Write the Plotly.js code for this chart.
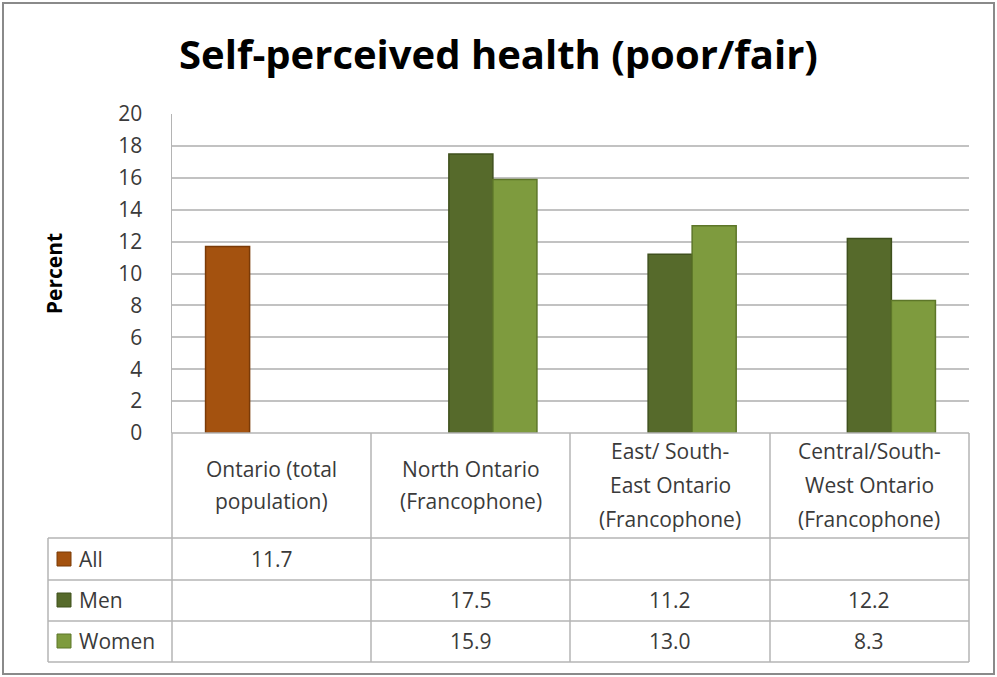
<!DOCTYPE html>
<html>
<head>
<meta charset="utf-8">
<script src="https://cdn.plot.ly/plotly-3.0.1.min.js"></script>
<style>html,body{margin:0;padding:0;background:#fff;}#chart{width:997px;height:677px;}</style>
</head>
<body>
<div id="chart"></div>
<script>
// ---- data ----
var categories = ["Ontario (total<br>population)", "North Ontario<br>(Francophone)", "East/ South-<br>East Ontario<br>(Francophone)", "Central/South-<br>West Ontario<br>(Francophone)"];
var seriesNames = ["All", "Men", "Women"];
var allValues = [11.7, null, null, null];
var menValues = [null, 17.5, 11.2, 12.2];
var womenValues = [null, 15.9, 13.0, 8.3];
var yTicks = [0, 2, 4, 6, 8, 10, 12, 14, 16, 18, 20];

// ---- styles ----
var fills = ["#A4520F", "#566A2B", "#7E9B3E"];
var edges = ["#7A3A07", "#3F501D", "#5D7629"];
var seriesValues = [allValues, menValues, womenValues];
var font = "'Open Sans', Lato, sans-serif";
var textColor = "#3a3a3a";
var lineColor = "#b4b4b4";
var fs = 21;

var W = 997, H = 677, L = 172, R = 969, T = 114, B = 433;
function px(x) { return (x - L) / (R - L); }
function py(y) { return (B - y) / (B - T); }

var traces = seriesNames.map(function (name, i) {
  return {
    type: "bar", name: name, x: categories, y: seriesValues[i],
    marker: { color: fills[i], line: { color: edges[i], width: 1.5 } },
    hoverinfo: "x+y+name"
  };
});

var shapes = [];
var annotations = [];
function hline(y, x0, x1) {
  shapes.push({ type: "line", xref: "paper", yref: "paper", x0: px(x0), x1: px(x1), y0: py(y), y1: py(y), line: { color: lineColor, width: 1.5 } });
}
function vline(x, y0, y1) {
  shapes.push({ type: "line", xref: "paper", yref: "paper", x0: px(x), x1: px(x), y0: py(y0), y1: py(y1), line: { color: lineColor, width: 1.5 } });
}
// table grid
var rowLines = [538, 580, 621, 662];
var colLines = [172, 371, 570, 770, 969];
hline(433, 172, 969);
rowLines.forEach(function (y) { hline(y, 48, 969); });
colLines.forEach(function (x) { vline(x, 433, 662); });
vline(48, 538, 662);
// outer frame
shapes.push({ type: "rect", xref: "paper", yref: "paper", x0: px(3), x1: px(994), y0: py(674), y1: py(3), line: { color: "#8a8a8a", width: 2 } });

// header labels (one annotation per line, to match the wide line spacing)
var headerY = [[469, 501], [469, 501], [451, 485, 519], [451, 485, 519]];
categories.forEach(function (c, ci) {
  c.split("<br>").forEach(function (line, li) {
    annotations.push({
      xref: "x", yref: "paper", x: ci, y: py(headerY[ci][li]), text: line, showarrow: false,
      font: { family: font, size: fs, color: textColor }, xanchor: "center", yanchor: "middle"
    });
  });
});
// legend rows + values
var rowCenters = [559, 600, 641];
seriesNames.forEach(function (name, si) {
  var yc = rowCenters[si];
  shapes.push({ type: "rect", xref: "paper", yref: "paper", x0: px(57), x1: px(71), y0: py(yc + 7), y1: py(yc - 7), fillcolor: fills[si], line: { color: edges[si], width: 1 } });
  annotations.push({ xref: "paper", yref: "paper", x: px(77), y: py(yc), text: name, showarrow: false, xanchor: "left", yanchor: "middle", font: { family: font, size: fs, color: textColor } });
  seriesValues[si].forEach(function (v, ci) {
    if (v === null) return;
    annotations.push({ xref: "x", yref: "paper", x: ci, y: py(yc), text: v.toFixed(1), showarrow: false, xanchor: "center", yanchor: "middle", font: { family: font, size: fs, color: textColor } });
  });
});

var layout = {
  width: W, height: H,
  margin: { l: L, r: W - R, t: T, b: H - B, pad: 0 },
  paper_bgcolor: "#ffffff", plot_bgcolor: "#ffffff",
  title: { text: "<b>Self-perceived health (poor/fair)</b>", x: 0.5, xanchor: "center", y: 1 - 55 / H, yanchor: "middle", font: { family: font, size: 40, color: "#000000" } },
  showlegend: false,
  barmode: "group", bargap: 0.337, bargroupgap: 0,
  xaxis: { type: "category", range: [-0.5, 3.5], showticklabels: false, showgrid: false, zeroline: false, showline: false, ticks: "", fixedrange: true },
  yaxis: {
    range: [0, 20], tickvals: yTicks, ticktext: yTicks.map(String), showgrid: true, gridcolor: "#c2c2c2", gridwidth: 2,
    zeroline: false, showline: true, linecolor: lineColor, linewidth: 1.5, ticks: "", ticklabelstandoff: 24,
    tickfont: { family: font, size: fs, color: textColor },
    title: { text: "<b>Percent</b>", standoff: 50, font: { family: font, size: 21, color: "#000000" } },
    automargin: false, fixedrange: true
  },
  shapes: shapes, annotations: annotations
};

Plotly.newPlot("chart", traces, layout, { displayModeBar: false, staticPlot: true });
</script>
</body>
</html>
